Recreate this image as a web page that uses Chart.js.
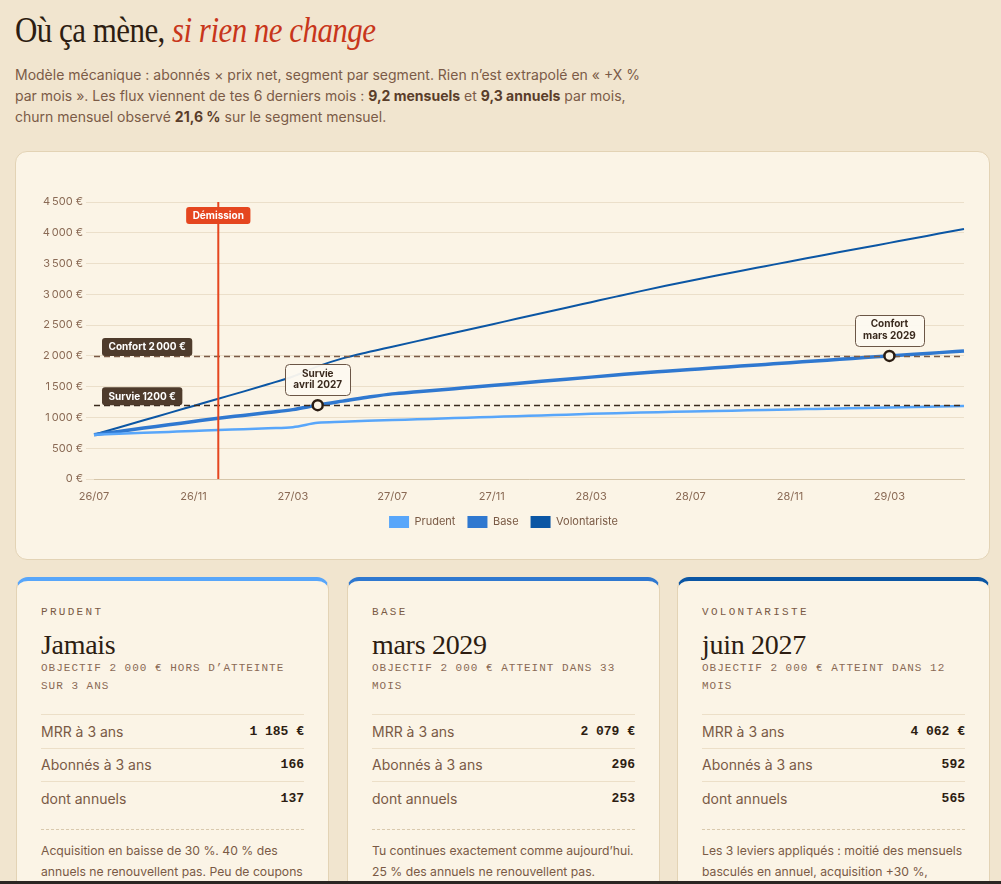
<!DOCTYPE html>
<html lang="fr">
<head>
<meta charset="utf-8">
<script src="https://cdn.jsdelivr.net/npm/chart.js@4.4.1/dist/chart.umd.min.js"></script>
<style>
html,body{margin:0;padding:0;}
body{background:#f1e5cf;font-family:Inter,"Noto Sans",sans-serif;color:#7a5a45;width:1001px;height:884px;overflow:hidden;position:relative;}
h1{position:absolute;left:15px;top:13px;margin:0;font-family:"Liberation Serif","DejaVu Serif",serif;font-weight:400;font-size:35px;line-height:35px;letter-spacing:-0.6px;color:#2d1d12;white-space:nowrap;transform:scaleX(0.885);transform-origin:left top;}
h1 em{color:#c8361b;font-style:italic;}
.sub{position:absolute;left:15px;top:64px;margin:0;font-size:14px;line-height:21px;color:#7b5b47;white-space:nowrap;}
.sub b{color:#5a3d2a;font-weight:700;}
.chartcard{position:absolute;left:15px;top:151px;width:975px;height:409px;box-sizing:border-box;border:1px solid #e3d3b5;border-radius:12px;background:#fbf4e6;padding:24px 24px 21px 24px;}
.chartbox{position:relative;width:927px;height:362px;}
.card{position:absolute;top:577px;width:313px;height:420px;box-sizing:border-box;background:#fbf4e6;border:1px solid #e3d3b5;border-top:4px solid;border-radius:12px;padding:24px 24px;}
.k{font-family:"Liberation Mono","DejaVu Sans Mono",monospace;font-size:11px;line-height:14px;letter-spacing:2.3px;color:#7a5a45;}
.h{font-family:"Liberation Serif","DejaVu Serif",serif;font-size:28px;line-height:28px;letter-spacing:-0.3px;color:#2d1d12;margin-top:12px;}
.m{font-family:"Liberation Mono","DejaVu Sans Mono",monospace;font-size:11px;line-height:18px;letter-spacing:1px;color:#8a6a55;}
.rows{margin-top:19px;}
.row{border-top:1px solid #ecdfc8;height:32.5px;display:flex;justify-content:space-between;align-items:center;font-size:14px;color:#7a5a45;}
.row span:last-child{font-family:"Liberation Mono","DejaVu Sans Mono",monospace;font-weight:700;font-size:13px;color:#2d1d12;}
.desc{margin-top:14px;border-top:1px dashed #d9c9ad;padding-top:10px;font-size:12.2px;line-height:21px;color:#7a5a45;}
.bar{position:absolute;left:0;bottom:0;width:1001px;height:3px;background:#2b2623;}
</style>
</head>
<body>
<h1>Où ça mène, <em>si rien ne change</em></h1>
<p class="sub">Modèle mécanique : abonnés × prix net, segment par segment. Rien n’est extrapolé en « +X %<br>par mois ». Les flux viennent de tes 6 derniers mois : <b>9,2 mensuels</b> et <b>9,3 annuels</b> par mois,<br>churn mensuel observé <b>21,6 %</b> sur le segment mensuel.</p>

<div class="chartcard"><div class="chartbox"><canvas id="c"></canvas></div></div>

<div class="card" style="left:16px;border-top-color:#58a6fa;">
  <div class="k">PRUDENT</div>
  <div class="h">Jamais</div>
  <div class="m">OBJECTIF 2 000 € HORS D’ATTEINTE SUR 3 ANS</div>
  <div class="rows">
    <div class="row"><span>MRR à 3 ans</span><span>1 185 €</span></div>
    <div class="row"><span>Abonnés à 3 ans</span><span>166</span></div>
    <div class="row"><span>dont annuels</span><span>137</span></div>
  </div>
  <div class="desc">Acquisition en baisse de 30 %. 40 % des annuels ne renouvellent pas. Peu de coupons utilisés.</div>
</div>
<div class="card" style="left:347px;border-top-color:#2f78d0;">
  <div class="k">BASE</div>
  <div class="h">mars 2029</div>
  <div class="m">OBJECTIF 2 000 € ATTEINT DANS 33 MOIS</div>
  <div class="rows">
    <div class="row"><span>MRR à 3 ans</span><span>2 079 €</span></div>
    <div class="row"><span>Abonnés à 3 ans</span><span>296</span></div>
    <div class="row"><span>dont annuels</span><span>253</span></div>
  </div>
  <div class="desc">Tu continues exactement comme aujourd’hui. 25 % des annuels ne renouvellent pas.</div>
</div>
<div class="card" style="left:677px;border-top-color:#0b56a4;">
  <div class="k">VOLONTARISTE</div>
  <div class="h">juin 2027</div>
  <div class="m">OBJECTIF 2 000 € ATTEINT DANS 12 MOIS</div>
  <div class="rows">
    <div class="row"><span>MRR à 3 ans</span><span>4 062 €</span></div>
    <div class="row"><span>Abonnés à 3 ans</span><span>592</span></div>
    <div class="row"><span>dont annuels</span><span>565</span></div>
  </div>
  <div class="desc">Les 3 leviers appliqués : moitié des mensuels basculés en annuel, acquisition +30 %, rétention travaillée.</div>
</div>
<div class="bar"></div>

<script>
// ---- data ----
const months = ['26/07','26/08','26/09','26/10','26/11','26/12','27/01','27/02','27/03','27/04','27/05','27/06',
                '27/07','27/08','27/09','27/10','27/11','27/12','28/01','28/02','28/03','28/04','28/05','28/06',
                '28/07','28/08','28/09','28/10','28/11','28/12','29/01','29/02','29/03','29/04','29/05','29/06'];
const prudent = [720,735,750,765,780,796,810,825,842,912,930,945,958,970,983,995,1008,1020,1033,1045,1058,1070,1080,1088,
                 1096,1105,1113,1121,1130,1138,1146,1154,1163,1171,1178,1185];
const base = [720,773,827,880,934,987,1033,1079,1127,1200,1265,1328,1383,1417,1451,1485,1519,1553,1587,1621,1655,1689,1723,1751,
              1779,1807,1834,1862,1890,1917,1945,1972,2000,2026,2053,2079];
const volontariste = [720,838,955,1070,1187,1304,1420,1540,1665,1830,1960,2060,2150,2240,2330,2421,2511,2602,2692,2783,2873,2963,3052,3138,
                      3222,3302,3380,3457,3534,3610,3686,3761,3836,3911,3987,4062];
const seriesNames = ['Prudent','Base','Volontariste'];
const yMin = 0, yMax = 4500, yStep = 500;
const tickEvery = 4;
const demissionIndex = 5;
const demissionLabel = 'Démission';
const thresholdValues = [2000, 1200];
const thresholdLabels = ['Confort 2\u202f000 €', 'Survie 1200 €'];
const milestoneValues = [1200, 2000];
const milestoneLines = [['Survie','avril 2027'], ['Confort','mars 2029']];

// ---- styles ----
const colors = ['#58a6fa', '#2f78d0', '#0b56a4'];
const widths = [2.5, 3.5, 2];
const thresholdColors = ['#7a5a45', '#3a2a1e'];
const fontFam = 'Inter, "Noto Sans", sans-serif';

function roundRect(ctx, x, y, w, h, r) {
  ctx.beginPath();
  ctx.moveTo(x + r, y);
  ctx.arcTo(x + w, y, x + w, y + h, r);
  ctx.arcTo(x + w, y + h, x, y + h, r);
  ctx.arcTo(x, y + h, x, y, r);
  ctx.arcTo(x, y, x + w, y, r);
  ctx.closePath();
}

const annotations = {
  id: 'annots',
  afterDatasetsDraw(chart) {
    const {ctx, chartArea: a, scales: {x, y}} = chart;
    ctx.save();
    thresholdValues.forEach((v, i) => {
      const py = Math.round(y.getPixelForValue(v)) + 0.5;
      ctx.setLineDash([6, 4]);
      ctx.lineWidth = 1.6;
      ctx.strokeStyle = thresholdColors[i];
      ctx.beginPath(); ctx.moveTo(a.left, py); ctx.lineTo(a.right, py); ctx.stroke();
    });
    ctx.setLineDash([]);
    const dx = x.getPixelForValue(demissionIndex);
    ctx.strokeStyle = '#e5461f';
    ctx.lineWidth = 2;
    ctx.beginPath(); ctx.moveTo(dx, a.top); ctx.lineTo(dx, a.bottom); ctx.stroke();
    ctx.font = '700 10px ' + fontFam;
    ctx.textBaseline = 'middle';
    ctx.textAlign = 'center';
    thresholdValues.forEach((v, i) => {
      const py = y.getPixelForValue(v);
      const t = thresholdLabels[i];
      const w = ctx.measureText(t).width + 13;
      const bx = a.left + 8, by = py - 18;
      ctx.fillStyle = '#4e3b2c';
      roundRect(ctx, bx, by, w, 18, 3); ctx.fill();
      ctx.fillStyle = '#ffffff';
      ctx.fillText(t, bx + w / 2, by + 9.5);
    });
    ctx.font = '700 10px ' + fontFam;
    const dw = ctx.measureText(demissionLabel).width + 13;
    ctx.fillStyle = '#e5461f';
    roundRect(ctx, dx - dw / 2, a.top + 5, dw, 17, 3); ctx.fill();
    ctx.fillStyle = '#ffffff';
    ctx.fillText(demissionLabel, dx, a.top + 14);
    milestoneValues.forEach((v, i) => {
      const idx = base.findIndex(b => b >= v);
      if (idx < 0) return;
      const px = x.getPixelForValue(idx);
      const py = y.getPixelForValue(v);
      const lines = milestoneLines[i];
      ctx.font = '700 10px ' + fontFam;
      const w = Math.max(...lines.map(l => ctx.measureText(l).width)) + 16;
      const h = 31;
      const bx = px - w / 2, by = py - 10 - h;
      ctx.fillStyle = 'rgba(253,249,240,0.95)';
      ctx.strokeStyle = '#6b5646';
      ctx.lineWidth = 1;
      roundRect(ctx, Math.round(bx) + 0.5, Math.round(by) + 0.5, Math.round(w), h, 4);
      ctx.fill(); ctx.stroke();
      ctx.fillStyle = '#3a2a1e';
      ctx.fillText(lines[0], px, by + 9.5);
      ctx.fillText(lines[1], px, by + 21);
      ctx.beginPath();
      ctx.arc(px, py, 5, 0, Math.PI * 2);
      ctx.fillStyle = '#fbf4e6';
      ctx.fill();
      ctx.lineWidth = 2.5;
      ctx.strokeStyle = '#2a1c12';
      ctx.stroke();
    });
    ctx.restore();
  }
};

const seriesData = [prudent, base, volontariste];
new Chart(document.getElementById('c'), {
  type: 'line',
  data: {
    labels: months,
    datasets: seriesData.map((d, i) => ({
      label: seriesNames[i],
      data: d,
      borderColor: colors[i],
      backgroundColor: colors[i],
      borderWidth: widths[i],
      pointRadius: 0,
      pointHoverRadius: 0,
      fill: false,
      cubicInterpolationMode: 'monotone'
    }))
  },
  plugins: [annotations],
  options: {
    responsive: true,
    maintainAspectRatio: false,
    animation: false,
    layout: {padding: {top: 26, right: 0, left: 0, bottom: 0}},
    plugins: {
      tooltip: {enabled: false},
      legend: {
        position: 'bottom',
        labels: {
          boxWidth: 20, boxHeight: 12, padding: 12,
          color: '#7a5a45',
          font: {family: fontFam, size: 11},
          generateLabels(chart) {
            const items = Chart.defaults.plugins.legend.labels.generateLabels(chart);
            items.forEach(it => { it.lineWidth = 0; });
            return items;
          }
        }
      }
    },
    scales: {
      x: {
        afterFit: s => { s.height = 25; },
        grid: {display: false},
        border: {display: true, color: '#d6c6aa'},
        ticks: {
          autoSkip: false, maxRotation: 0, minRotation: 0,
          color: '#8a6a55', font: {family: fontFam, size: 11}, padding: 3,
          callback: (v, i) => (i % tickEvery === 0 ? months[i] : '')
        }
      },
      y: {
        min: yMin, max: yMax,
        afterFit: s => { s.width = 54; },
        grid: {color: '#ebdfca', tickLength: 8, drawTicks: true},
        border: {display: false},
        ticks: {
          stepSize: yStep,
          color: '#8a6a55', font: {family: fontFam, size: 11}, padding: 3,
          callback: v => v.toLocaleString('fr-FR') + ' €'
        }
      }
    }
  }
});
</script>
</body>
</html>
